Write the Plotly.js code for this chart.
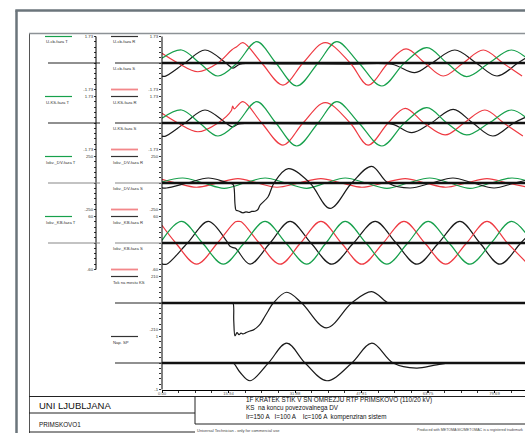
<!DOCTYPE html>
<html><head><meta charset="utf-8">
<script src="https://cdn.plot.ly/plotly-3.0.1.min.js"></script>
<style>html,body{margin:0;padding:0;overflow:hidden;background:#fff}#c{width:525px;height:433px}</style>
</head><body><div id="c"></div>
<script>
// ---------------- DATA (time in ms) ----------------
// Panel 1: U-cb
const t1T=[0,4.7,9.0,13.4,18.0,22.7,27.3,32.3,37.4,41.9,47.2,52.7,58.1,63.5,68.3,73.0,78.4,83.8,88.7];
const v1T=[0.31,0.85,0,-0.85,0,1.39,0,-1.50,0,1.39,0,-1.50,0,1.00,0,-0.89,0,0.85,0];
const t1R=[0,0.7,5.5,10.3,15.3,17.0,18.7,30,45,55.1,60.6,64.7,70.2,75.3,80.3,85.3,88.2];
const v1R=[-0.85,-0.87,0,0.85,0,-0.33,-0.08,-0.06,-0.07,-0.08,-0.63,0,0.85,0,-0.85,0,0.5];
const t1S=[0,3.8,8.6,13.4,16.7,17.9,19.4,23.9,29.0,33.8,39.1,45.1,49.4,54.2,58.5,63.0,67.4,72.2,77.0,81.7,86.3];
const v1S=[0.63,0,-0.57,0,0.85,1.06,1.33,0,-1.44,0,1.33,0,-1.44,0,0.92,0,-0.85,0,0.85,0,-0.85];
// Panel 2: U-KS
const t2T=[0,4.7,9.0,13.4,18.0,22.7,27.3,32.3,37.4,41.9,47.2,52.7,58.1,63.5,68.3,73.0,78.4,83.8,88.7];
const v2T=[0.31,0.85,0,-0.85,0,1.39,0,-1.50,0,1.39,0,-1.50,0,1.00,0,-0.78,0,0.85,0];
const t2R=[0,0.7,5.5,10.3,15.3,16.8,18.5,30,45,55.1,59.9,64.5,69.8,74.5,79.3,84.3,88.2];
const v2R=[-0.85,-0.87,0,0.85,0,-0.25,-0.06,-0.05,-0.06,-0.07,-0.63,0,0.89,0,-0.85,0,0.5];
const t2S=[0,3.8,8.6,13.4,16.6,16.95,17.3,19.4,23.9,29.0,33.8,39.1,45.1,49.4,54.2,58.3,62.8,67.9,72.4,77.4,81.9,86.5];
const v2S=[0.63,0,-0.57,0,0.80,1.11,0.92,1.39,0,-1.44,0,1.33,0,-1.44,0,0.96,0,-0.78,0,0.85,0,-0.85];
// Panel 3: Iokv._DV
const t3T=[0,5.0,9.9,14.9,19.8,24.7,29.7,34.7,39.3,43.9,48.9,53.9,59.0,64.2,69.0,73.8,78.9,83.9,88.9];
const v3T=[9,47,0,-50,0,47,0,-50,0,47,0,-50,0,47,0,-50,0,47,0];
const t3R=[0,1.1,6.1,11.1,15.3,16.71,17.14,17.5,17.74,18.2,18.7,19.42,20.1,20.85,21.5,22.3,23.0,23.49,25.4,26.85,30.27,35.47,40.27,45.47,50.26,54.17,59.5,64.6,69.75,74.6,79.6,84.5,89.5];
const v3R=[-45,-47,0,47,8,-6,-20,-200,-256,-262,-270,-282,-272,-278,-268,-266,-250,-210,-132,0,135,0,-240,0,157,0,-47,0,47,0,-47,0,47];
const t3S=[0,3.4,8.3,13.3,18.2,22.9,27.5,32.8,38.1,43.0,47.9,53.1,58.3,63.1,68.0,72.9,77.9,82.8,87.7];
const v3S=[35,0,-40,0,41,0,-40,0,41,0,-40,0,41,0,-40,0,41,0,-40];
// Panel 4: Iokv._KB
const t4T=[0,4.7,9.7,14.7,19.7,24.7,29.7,34.7,39.3,43.9,48.9,53.9,58.9,63.8,68.8,73.8,78.9,83.8,88.8];
const v4T=[6,49,0,-48,0,49,0,-48,0,49,0,-48,0,49,0,-48,0,49,0];
const t4R=[0,1.1,6.1,11.1,15.5,16.3,17.1,17.7,18.2,21.1,25.9,30.7,35.7,40.7,45.9,51.1,56.1,61.1,66.3,71.4,76.2,81.0,86.0,91];
const v4R=[-47,-48,0,49,4,-7.5,-10.5,-12.7,-18,-48,0,49,0,-48,0,49,0,-48,0,49,0,-48,0,49];
const t4S=[0,3.3,8.3,13.3,17.6,18.3,19.0,23.3,28.3,33.2,38.1,43.0,47.9,53.0,58.0,63.0,68.0,73.0,77.9,82.8,87.7];
const v4S=[40,0,-48,0,48,49,48,0,-48,0,49,0,-48,0,49,0,-48,0,49,0,-48];
// Panel 5: Tok na mestu KS
const t5=[0,5,10,15,16.5,17.0,17.2,17.5,17.98,18.46,18.94,19.42,20.13,21.09,21.81,22.70,23.49,24.28,25.48,26.68,29.89,33.49,39.4,45.47,50.26,54.24,56,60,70,87];
const v5=[0,0,0,0,0,0,-140,-261,-235,-250,-238,-245,-235,-222,-215,-195,-170,-128,-61,0,85,0,-197,0,90,0,0,0,0,0];
// Panel 6: Nap. SP
const t6=[0,5,10,15,16.5,17.1,18.7,21.1,25.5,29.9,34.3,39.5,45.5,50.3,55.4,61.0,65.4,69.0,72];
const v6=[0,0,0,0,0,0,-0.35,-0.67,0,0.75,0,-0.67,0,0.75,0,-0.19,-0.08,0,0];

// axis / label texts
const xTickVals=[0,15.94,31.88,47.81,63.75,79.69];
const xTickText=['0.00','15.94','31.88','47.81','63.75','79.69'];
const panelMax=[1.73,1.73,250,60,210,1];
const panelTopLbl=['1.73','1.73','250','60','210','1'];
const panelBotLbl=['-1.73','-1.73','-250','-60','-210','-1'];
const nameT=['U-cb-faza T','U-KS-faza T','Iokv._DV-faza T','Iokv._KB-faza T'];
const nameR=['U-cb-faza R','U-KS-faza R','Iokv._DV-faza R','Iokv._KB-faza R','Tok na mestu KS','Nap. SP'];
const nameS=['U-cb-faza S','U-KS-faza S','Iokv._DV-faza S','Iokv._KB-faza S'];

// ---------------- LAYOUT ----------------
const W=525,H=433;
const X=p=>p/W, Y=p=>1-p/H;
const GREEN='#17a04c', RED='#ee3a42', BLACK='#1b1b1b';
const FONT='Arial, "Liberation Sans", sans-serif';
const extraLow=[0,0,40,0,58,0];
const PH=53;
const ptop=k=>36.5+60*k;

const layout={width:W,height:H,margin:{l:0,r:0,t:0,b:0},paper_bgcolor:'#fff',plot_bgcolor:'rgba(0,0,0,0)',
  showlegend:false,font:{family:FONT,size:5,color:'#333'},shapes:[],annotations:[]};

layout.xaxis={domain:[X(162),1],range:[0,(W-162)/4.172],anchor:'y6',tickmode:'array',tickvals:xTickVals,ticktext:xTickText,
  ticks:'outside',ticklen:2,tickwidth:0.8,tickcolor:'#000',tickfont:{size:4.2,color:'#555'},ticklabelstandoff:-3,showline:true,linecolor:'#000',linewidth:1,
  showgrid:false,zeroline:false,fixedrange:true,minor:{dtick:15.94/4,tick0:0,ticks:'outside',ticklen:2,tickcolor:'#000',tickwidth:0.8}};

function yTicks(m){const v=[];for(let i=-5;i<=5;i++){v.push(i*m/5);}return v;}
for(let k=0;k<6;k++){
  const m=panelMax[k], e=extraLow[k];
  const tp=ptop(k), bt=tp+PH+e*PH/(2*m);
  const tv=yTicks(m), tt=tv.map((v,i)=>i===10?panelTopLbl[k]:i===0?panelBotLbl[k]:'');
  const base={range:[-m-e,m],tickmode:'array',tickvals:tv,ticktext:tt,ticks:'outside',ticklen:2,
    tickwidth:0.8,tickcolor:'#000',tickfont:{size:4.3,color:'#333'},showline:false,showgrid:false,zeroline:false,fixedrange:true};
  layout['yaxis'+(k?k+1:'')]=Object.assign({domain:[Y(bt),Y(tp)],anchor:'x'},base);
  if(k<4){
    layout['yaxis'+(7+k)]=Object.assign({overlaying:'y'+(k?k+1:''),anchor:'free',position:X(96),side:'left'},base);
  }
}

// ---------------- TRACES ----------------
const ln=(x,y,c,ya)=>({type:'scatter',mode:'lines',x:x,y:y,yaxis:ya,xaxis:'x',hoverinfo:'skip',
  line:{color:c,width:1.2,shape:'spline',smoothing:1}});
const data=[
  ln(t1R,v1R,BLACK,'y'),ln(t1S,v1S,RED,'y'),ln(t1T,v1T,GREEN,'y'),
  ln(t2R,v2R,BLACK,'y2'),ln(t2S,v2S,RED,'y2'),ln(t2T,v2T,GREEN,'y2'),
  ln(t3S,v3S,RED,'y3'),ln(t3T,v3T,GREEN,'y3'),ln(t3R,v3R,BLACK,'y3'),
  ln(t4R,v4R,BLACK,'y4'),ln(t4S,v4S,RED,'y4'),ln(t4T,v4T,GREEN,'y4'),
  ln(t5,v5,BLACK,'y5'),ln(t6,v6,BLACK,'y6')
];
for(let k=0;k<4;k++) data.push({type:'scatter',mode:'lines',x:[null],y:[null],xaxis:'x',yaxis:'y'+(7+k),hoverinfo:'skip'});

// ---------------- SHAPES & TEXT ----------------
const S=layout.shapes, A=layout.annotations;
const pl=(x0,y0,x1,y1,c,w)=>S.push({type:'line',xref:'paper',yref:'paper',x0:X(x0),x1:X(x1),y0:Y(y0),y1:Y(y1),line:{color:c,width:w}});
const tx=(x,y,s,size,c,anchor)=>A.push({xref:'paper',yref:'paper',x:X(x),y:Y(y),text:s,showarrow:false,xanchor:anchor||'left',yanchor:'middle',
  font:{family:FONT,size:size,color:c||'#333'}});

// frames
pl(16.5,10.5,16.5,433,'#6b757b',2.5);
pl(15.3,10.5,525,10.5,'#6b757b',2.5);
pl(29.5,33.5,29.5,433,'#555',1);
pl(29,33.5,525,33.5,'#8d9296',1.5);
// axis lines
pl(162,36.5,162,389.5,'#000',1);
pl(96,36.5,96,269.5,'#000',1);

for(let k=0;k<6;k++){
  const ya='y'+(k?k+1:''), tp=ptop(k), z=tp+PH/2;
  S.push({type:'line',xref:'paper',yref:ya,x0:X(162),x1:1,y0:0,y1:0,line:{color:'#111',width:2.6}});
  pl(115,z,162,z,(k===2||k===3)?'#888':'#222',1.2);
  if(k<4){
    pl(48,z,100,z,(k===2||k===3)?'#888':'#222',1.2);
    pl(45,tp,72,tp,GREEN,1.2);
    tx(44,tp+5.5,nameT[k],4.2);
    pl(111,tp+PH,138,tp+PH,'#f3878a',1.8);
    tx(111,z+5.5,nameS[k],4.2);
  }
  pl(111,tp,138,tp,'#333',1.2);
  tx(111,tp+5.5,nameR[k],4.2);
}

// bottom block
pl(29,396.5,525,396.5,'#222',1);
pl(29,413,195,413,'#222',1);
pl(195,396.5,195,424,'#222',1);
pl(195,424,525,424,'#222',1);
pl(29,432,195,432,'#222',1);
tx(37,405.5,'UNI LJUBLJANA',9.5,'#111');
tx(37,424.5,'PRIMSKOVO1',6.3,'#111');
tx(244,399.5,'1F KRATEK STIK V SN OMREZJU RTP PRIMSKOVO (110/20 kV)',6.3,'#111');
tx(244,408,'KS  na koncu povezovalnega DV',6.3,'#111');
tx(244,416.5,'Ir=150 A   I=100 A    Ic=106 A  kompenziran sistem',6.3,'#111');
tx(195,430,'Universal Technician - only for commercial use',4.0,'#444');
tx(415,430,'Produced with METOMAGIC/METOMAC is a registered trademark',3.6,'#444');

Plotly.newPlot('c',data,layout,{displayModeBar:false,staticPlot:true});
</script></body></html>
